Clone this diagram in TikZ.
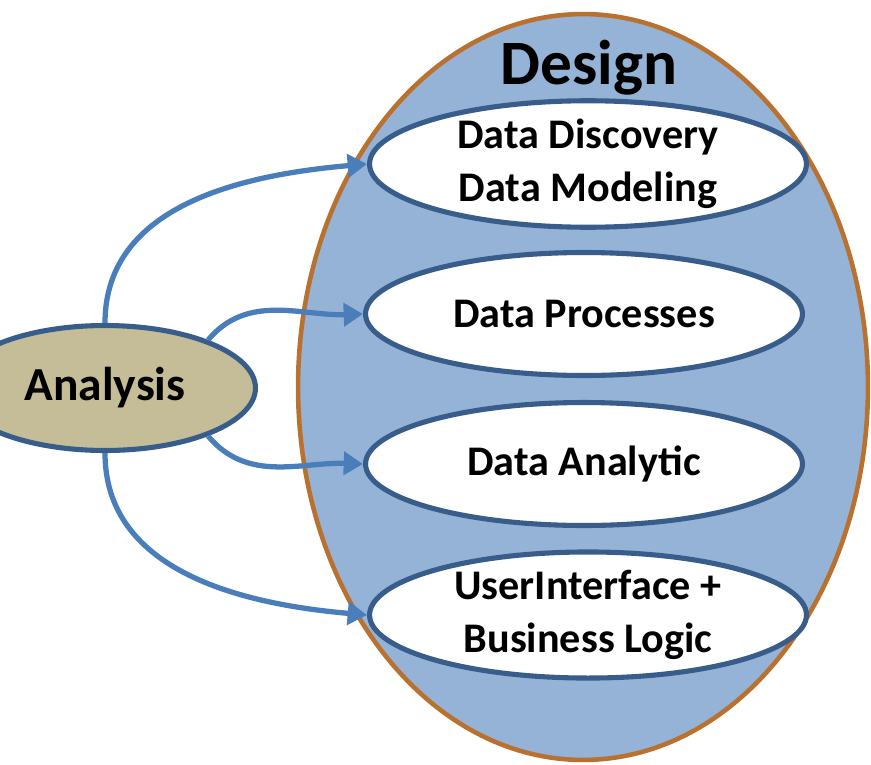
\documentclass[tikz,border=0pt]{standalone}
\usepackage{fontspec}
\setmainfont{Carlito}
\usetikzlibrary{shapes.geometric,arrows.meta}

\definecolor{designfill}{HTML}{95B3D7}
\definecolor{designline}{HTML}{B9712F}
\definecolor{taskline}{HTML}{385D8A}
\definecolor{linkblue}{HTML}{4A7EBB}
\definecolor{analysisfill}{HTML}{C4BD97}

\begin{document}
\begin{tikzpicture}[
    x=0.02cm, y=0.02cm,
    every node/.style={font=\bfseries},
    task/.style={
        ellipse,
        draw=taskline,
        line width=2.9pt,
        fill=white,
        minimum width=8.74cm,
        minimum height=2.46cm,
        inner sep=0pt,
        align=center,
        font=\fontsize{24}{30}\selectfont\bfseries,
    },
    link/.style={
        draw=linkblue,
        line width=3pt,
        -{Triangle[length=11pt,width=13pt]},
    }
]

% Frame of the picture (pixel units, y downwards as negative)
\useasboundingbox (0,0) rectangle (871,-764);
\clip (0,0) rectangle (871,-764);

% --- Outer phase: Design ---
\node[ellipse, draw=designline, line width=2.6pt, fill=designfill,
      minimum width=11.4cm, minimum height=14.92cm] (design) at (583,-387) {};
\node[font=\fontsize{36}{40}\selectfont\bfseries] (title) at (589,-68)
    {Design};

% --- Design tasks ---
\node[task] (disc) at (588,-164) {Data Discovery\\Data Modeling};
\node[task] (proc) at (584,-314) {Data Processes};
\node[task] (anly) at (584,-464) {Data Analytic};
\node[task] (ui)   at (588,-615) {UserInterface +\\Business Logic};

% --- Inner phase: Analysis ---
\node[ellipse, draw=taskline, line width=2.9pt, fill=analysisfill,
      minimum width=6.02cm, minimum height=2.5cm, inner sep=0pt,
      font=\fontsize{27}{31}\selectfont\bfseries] (ana) at (105,-388)
    {\raisebox{-2pt}{Analysis}};

% --- Links from Analysis to each task ---
\draw[link] (ana.north) to[out=90, in=185]  (disc.west);
\draw[link] (ana.25)    to[out=50, in=182]  (proc.west);
\draw[link] (ana.-25)   to[out=-50, in=178] (anly.west);
\draw[link] (ana.south) to[out=-90, in=175] (ui.west);

\end{tikzpicture}
\end{document}
